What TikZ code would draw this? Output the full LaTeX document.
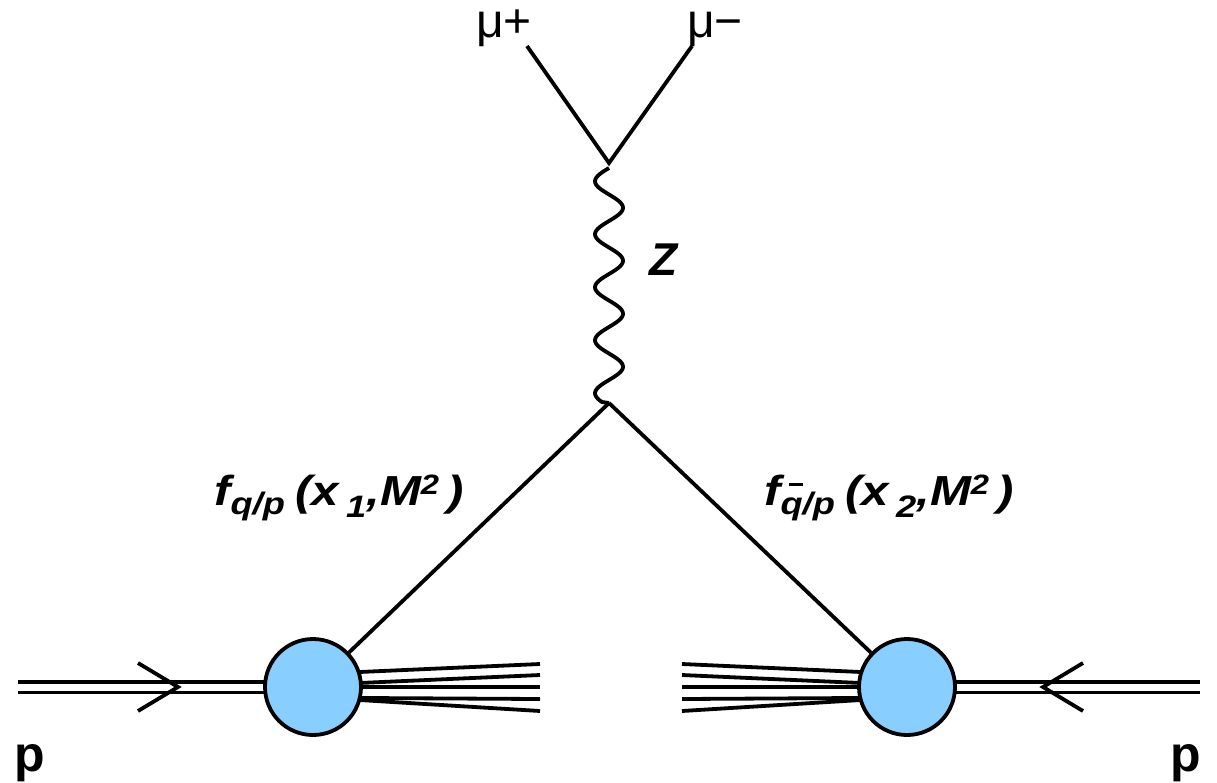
\documentclass[tikz,border=0pt]{standalone}
\usepackage{fontspec}
\setmainfont{Liberation Sans}
\usetikzlibrary{backgrounds}
\definecolor{blobblue}{RGB}{136,206,255}
\newcommand{\qbarsym}{\rlap{\hspace{7pt}\rule[28pt]{12pt}{3.2pt}}q}
\newcommand{\partonlabel}[2]{\scalebox{1.17}[1]{\fontsize{42}{42}\selectfont\bfseries\itshape f\raisebox{-9pt}{\fontsize{31}{31}\selectfont #1/p}\hspace{9pt}(x\hspace{6pt}\raisebox{-12pt}{\fontsize{31}{31}\selectfont #2},M\raisebox{11pt}{\fontsize{28}{28}\selectfont 2}\hspace{7pt})}}
\tikzset{
  line/.style={line width=3.8pt},
  blobnode/.style={circle, draw, line width=3.8pt, fill=blobblue, minimum size=96pt, inner sep=0pt},
  proton/.style={line width=3.8pt, double, double distance=7pt},
  chev/.style={line width=3.8pt, line join=miter},
  mulabel/.style={anchor=base west, inner sep=0pt, font=\fontsize{48}{48}\selectfont},
  plabel/.style={anchor=base west, inner sep=0pt, font=\fontsize{50}{50}\selectfont\bfseries},
  zlabel/.style={anchor=base west, inner sep=0pt, font=\fontsize{46}{46}\selectfont\bfseries\itshape},
  flabel/.style={anchor=base west, inner sep=0pt}
}
\begin{document}
\begin{tikzpicture}[x=1pt,y=-1pt]
\useasboundingbox (0,0) rectangle (1217,782);
% vertices and free ends
\coordinate (v1) at (609,163);
\coordinate (v2) at (609,403);
\coordinate (mp) at (527,46);
\coordinate (mm) at (692,46);
\coordinate (pl) at (18,687);
\coordinate (pr) at (1200,687);
\coordinate (al) at (178,687);
\coordinate (ar) at (1043,687);
% blobs
\node[blobnode] (b1) at (313,687) {};
\node[blobnode] (b2) at (907,687) {};
% lines behind blobs
\begin{pgfonlayer}{background}
  \foreach \s/\e in {673.3/664, 684.3/675, 687/687, 697.8/699, 698.2/711}
    \draw[line] (330,\s) -- (540,\e);
  \foreach \s/\e in {673.3/664, 684.3/675, 687/687, 697.8/699, 698.2/711}
    \draw[line] (890,\s) -- (682,\e);
  \draw[proton] (pl) -- (b1.center);
  \draw[proton] (b2.center) -- (pr);
\end{pgfonlayer}
% muons
\draw[line] (mp) -- (v1) -- (mm);
% Z boson
\draw[line] plot[domain=0:234, samples=160, smooth] ({609-14*sin(6.7925*\x)}, {168+\x}) -- (v2);
% quarks
\draw[line] (v2) -- (b1);
\draw[line] (v2) -- (b2);
% chevrons
\draw[chev] (al) ++(-40,-24) -- (al) -- ++(-40,24);
\draw[chev] (ar) ++(40,-24) -- (ar) -- ++(40,24);
% labels
\node[mulabel] (lmp) at (476,37) {μ+};
\node[mulabel] (lmm) at (687,37) {μ−};
\node[zlabel] (lz) at (649,275) {Z};
\node[plabel] (lp1) at (14,771) {p};
\node[plabel] (lp2) at (1170,771) {p};
\node[flabel] (lf1) at (214,505) {\partonlabel{q}{1}};
\node[flabel] (lf2) at (764,505) {\partonlabel{\qbarsym}{2}};
\end{tikzpicture}
\end{document}
